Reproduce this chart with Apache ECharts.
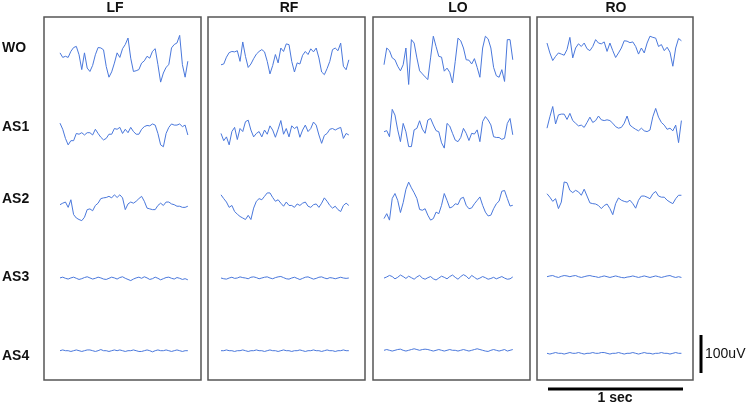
<!DOCTYPE html>
<html>
<head>
<meta charset="utf-8">
<script src="https://cdn.jsdelivr.net/npm/echarts@6/dist/echarts.min.js"></script>
<style>html,body{margin:0;padding:0;background:#fff;}#c{width:747px;height:405px;}</style>
</head>
<body>
<div id="c"></div>
<script>
// ---- data (uV, positive = up), sampled at FS samples per second ----
const FS = 50;
const panelNames = ['LF', 'RF', 'LO', 'RO'];
const rowNames = ['WO', 'AS1', 'AS2', 'AS3', 'AS4'];
const scaleTime = [0, 1];      // 1 sec bar
const scaleAmp = [0, 100];     // 100 uV bar

const LF_WO = [18,6,9,6,22,32,35,13,-26,18,-22,-31,-15,13,32,31,26,-18,-46,-32,-9,18,6,29,40,57,4,-31,-29,-26,-9,-3,9,4,22,29,-13,-59,-35,-20,-13,31,40,44,64,-13,-46,-4];
const RF_WO = [-16,-14,4,16,19,18,21,-7,44,6,-23,-14,0,12,19,24,18,-7,-40,-18,11,-11,28,19,39,37,-7,-35,-11,-14,9,19,11,26,18,28,2,-35,-42,-26,-7,24,28,21,41,-20,-29,-3];
const LO_WO = [-9,35,28,9,4,-13,-25,-9,35,-61,57,48,9,-25,-33,-41,-48,9,66,39,13,11,-26,-18,-29,-57,0,61,54,35,4,3,-7,7,-16,-42,35,66,59,35,-16,-38,-42,-22,-53,57,57,4];
const RO_WO = [13,-13,-33,-22,-13,-16,-19,-4,28,-26,0,11,4,13,-2,-7,4,22,13,11,16,-9,13,-7,-25,-13,0,19,18,14,16,4,-16,0,-13,13,31,28,26,4,9,-7,2,-11,-48,0,25,19];

const LF_AS1 = [25,9,-15,-32,-21,-21,-2,-4,0,-6,0,0,-6,9,-2,-12,-19,-15,-4,-4,11,9,14,-2,9,0,14,3,-4,-4,9,16,19,18,23,20,-2,-32,-37,-2,14,23,20,20,23,16,20,-6];
const RF_AS1 = [-2,-21,-11,-32,3,14,-18,11,3,29,33,7,-11,-2,3,-11,7,-4,18,7,-12,9,32,-4,11,-11,18,11,16,-12,7,20,3,11,28,20,-6,-28,-7,-2,9,11,7,11,14,-15,-2,-6];
const LO_AS1 = [4,7,-9,63,48,9,-22,26,4,-35,-35,9,13,33,11,0,35,39,22,7,4,-25,-39,26,19,0,-18,-22,-11,13,0,-19,0,-2,9,-22,31,44,35,22,-9,-11,-11,-16,-13,26,39,-4];
const RO_AS1 = [-11,19,46,0,24,26,26,12,28,9,2,-5,-3,-9,4,18,4,9,21,11,9,11,9,2,-7,-11,-9,2,21,-3,-9,-14,-18,-11,-18,-20,-16,19,41,18,4,-3,-14,-11,-18,-3,-49,9];

const LF_AS2 = [0,4,7,-7,13,-26,-35,-39,-42,-33,-13,-11,-16,-2,4,16,18,19,22,18,26,19,26,18,-13,2,7,4,9,16,22,9,-9,-11,-13,-13,-2,4,-2,7,7,2,0,-4,-4,-7,-7,-4];
const RF_AS2 = [26,16,7,-7,-2,-18,-25,-31,-35,-39,-28,-39,-9,9,16,13,22,31,31,19,9,13,4,-4,7,-2,-2,-7,2,-2,4,7,-4,-7,0,2,-7,4,18,9,-2,-9,-4,-13,-18,-2,4,-2];
const LO_AS2 = [-35,-22,-39,18,31,13,-19,7,42,61,46,33,18,-11,-13,-9,-26,-39,-35,-18,-22,0,31,13,-7,-4,4,2,18,21,0,-9,-7,4,13,22,0,-18,-28,-26,-9,4,11,37,39,18,-2,0];
const RO_AS2 = [13,4,-7,0,-26,-9,44,42,22,16,22,18,9,25,7,-11,-13,-14,-18,-26,-18,-14,-26,-42,-13,2,-4,-7,-9,-4,-13,-25,-4,7,7,4,0,13,19,7,4,4,-4,-9,-13,0,9,9];

const LF_AS3 = [1,3,0,-2,1,3,0,-3,-1,2,4,1,-2,0,3,1,-2,-3,0,3,1,-2,2,4,0,-3,-6,-2,1,3,0,4,1,-3,-1,3,0,-4,-1,2,3,0,-2,2,0,-3,-1,-4];
const RF_AS3 = [0,-2,-3,0,2,-1,0,3,1,0,-2,2,3,1,-2,0,2,3,0,-2,1,3,4,1,-2,-3,0,2,-1,-4,-1,2,3,0,-3,-1,2,3,0,-2,1,0,-2,0,2,0,-1,0];
const LO_AS3 = [-1,2,6,3,-3,1,7,3,-2,4,0,-4,2,6,-1,-4,0,3,-3,-6,-1,4,1,-3,3,7,1,-4,3,8,4,-3,6,1,-4,-1,3,0,-4,-2,1,-3,0,3,-1,-4,-3,2];
const RO_AS3 = [0,2,3,0,-2,1,3,2,0,2,3,0,-2,0,2,3,1,0,-2,0,2,0,-2,0,2,0,-2,-3,-1,0,2,0,-2,0,2,0,-2,0,2,0,-2,0,2,3,0,-2,0,-2];

const LF_AS4 = [0,2,0,0,-2,0,2,0,-2,0,2,2,0,-2,0,3,0,0,-2,0,2,0,2,0,-2,0,0,2,0,-2,-2,0,2,0,-3,0,2,0,0,2,0,-2,0,2,0,-2,0,0];
const RF_AS4 = [0,0,2,0,0,-2,0,0,2,0,-2,0,0,2,0,0,-2,0,2,0,0,-2,0,2,0,0,-2,0,0,2,0,-2,0,0,2,0,0,-2,0,2,0,0,-2,0,0,2,0,0];
const LO_AS4 = [0,2,0,-2,0,2,3,0,-2,0,2,4,2,0,2,3,2,0,-2,0,2,0,-2,0,2,0,0,-2,0,2,0,-2,0,2,4,2,0,-2,-3,0,2,0,-2,0,2,-2,0,2];
const RO_AS4 = [0,-2,0,2,0,0,-2,0,2,0,0,2,0,-2,0,0,2,0,0,2,2,0,-2,0,0,2,0,-2,0,0,2,0,-2,0,2,0,0,-2,0,0,2,0,0,-2,0,2,0,0];

const traces = [
  [LF_WO, RF_WO, LO_WO, RO_WO],
  [LF_AS1, RF_AS1, LO_AS1, RO_AS1],
  [LF_AS2, RF_AS2, LO_AS2, RO_AS2],
  [LF_AS3, RF_AS3, LO_AS3, RO_AS3],
  [LF_AS4, RF_AS4, LO_AS4, RO_AS4]
];

// ---- layout ----
const boxLeft = [44, 208, 373, 537];
const boxWidth = [157, 157, 157, 156];
const boxTop = 17, boxHeight = 363;
const traceLeft = [60, 221, 384, 547];
const traceWidth = [136, 136, 137, 143];   // width of 1 s
const pxPer100uV = 38;
const baseY = [
  [59.7, 58.7, 61.3, 48],
  [132.7, 132.7, 133.3, 124],
  [204.7, 204.7, 205.3, 198.7],
  [278.3, 278, 277.7, 276.7],
  [350.7, 350.7, 350.3, 353.3]
];
const titleX = [115, 289, 458, 616];
const rowLabelY = [49, 128, 200, 278, 357];
const lineColor = '#4a78dc';

const grids = [], xAxes = [], yAxes = [], series = [];
function addGrid(g, xa, ya) {
  const idx = grids.length;
  grids.push(g);
  xAxes.push(Object.assign({ gridIndex: idx, show: false, type: 'value' }, xa));
  yAxes.push(Object.assign({ gridIndex: idx, show: false, type: 'value' }, ya));
  return idx;
}

// panel boxes
for (let p = 0; p < 4; p++) {
  addGrid({ left: boxLeft[p], top: boxTop, width: boxWidth[p], height: boxHeight, show: true,
            borderColor: '#555', borderWidth: 1.5, backgroundColor: 'transparent' },
          { min: 0, max: 1 }, { min: 0, max: 1 });
}

// traces
for (let r = 0; r < rowNames.length; r++) {
  for (let p = 0; p < panelNames.length; p++) {
    const gi = addGrid({ left: traceLeft[p], top: baseY[r][p] - pxPer100uV, width: traceWidth[p], height: 2 * pxPer100uV },
                       { min: 0, max: 1 }, { min: -100, max: 100 });
    series.push({
      type: 'line', xAxisIndex: gi, yAxisIndex: gi, symbol: 'none', silent: true, animation: false,
      lineStyle: { color: lineColor, width: 1 },
      data: traces[r][p].map((v, i) => [i / FS, v])
    });
  }
}

// scale bars
const gH = addGrid({ left: 548, top: 384, width: 135, height: 10 }, { min: 0, max: 1 }, { min: -1, max: 1 });
series.push({ type: 'line', xAxisIndex: gH, yAxisIndex: gH, symbol: 'none', silent: true, animation: false,
  lineStyle: { color: '#000', width: 3 }, data: scaleTime.map(t => [t, 0]) });
const gV = addGrid({ left: 696, top: 335, width: 10, height: pxPer100uV }, { min: -1, max: 1 }, { min: 0, max: 100 });
series.push({ type: 'line', xAxisIndex: gV, yAxisIndex: gV, symbol: 'none', silent: true, animation: false,
  lineStyle: { color: '#000', width: 3 }, data: scaleAmp.map(a => [0, a]) });

const fontFam = '"Liberation Sans", Arial, sans-serif';
const titles = panelNames.map((n, p) => ({
  text: n, left: titleX[p], top: 1, textAlign: 'center', padding: 0,
  textStyle: { fontFamily: fontFam, fontSize: 14, fontWeight: 'bold', color: '#111' }
}));
rowNames.forEach((n, r) => titles.push({
  text: n, left: 2, top: rowLabelY[r] - 8, padding: 0,
  textStyle: { fontFamily: fontFam, fontSize: 14, fontWeight: 'bold', color: '#111' }
}));
titles.push({ text: '100uV', left: 705, top: 347, padding: 0,
  textStyle: { fontFamily: fontFam, fontSize: 14, fontWeight: 'normal', color: '#111' } });
titles.push({ text: '1 sec', left: 615, top: 391, textAlign: 'center', padding: 0,
  textStyle: { fontFamily: fontFam, fontSize: 14, fontWeight: 'bold', color: '#111' } });

const chart = echarts.init(document.getElementById('c'), null, { renderer: 'canvas' });
chart.setOption({
  backgroundColor: '#fff',
  animation: false,
  title: titles,
  grid: grids,
  xAxis: xAxes,
  yAxis: yAxes,
  series: series
});
</script>
</body>
</html>
